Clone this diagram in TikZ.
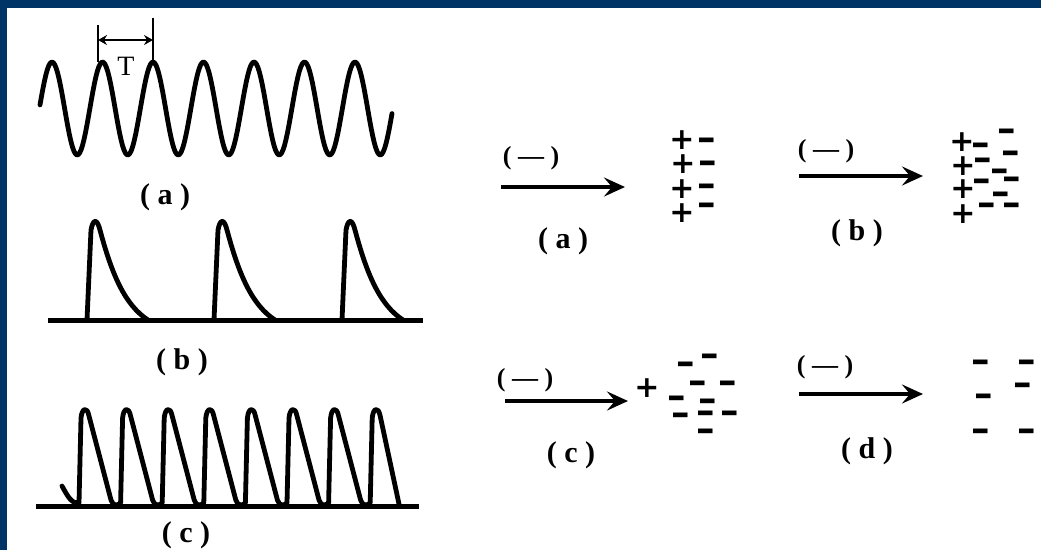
\documentclass[tikz,border=0pt]{standalone}
\usepackage{fontspec}
\setmainfont{Liberation Serif}
\newfontfamily\signfont{DejaVu Sans}
\usetikzlibrary{arrows.meta}
\definecolor{frameBlue}{RGB}{0,51,102}

\def\drawPulseB#1{%
\draw[signalLine] (#1,320) -- (#1+4,230) .. controls (#1+6,219) and (#1+10,218) .. (#1+13,230)
  .. controls (#1+25,275) and (#1+38,305) .. (#1+61,320);
}

\begin{document}
\begin{tikzpicture}[x=1pt, y=-1pt]

% styles
\tikzstyle{signalLine}=[line width=4.8pt, line join=round, line cap=round]
\tikzstyle{baseLine}=[line width=5pt]
\tikzstyle{dimLine}=[line width=2pt]
\tikzstyle{dimArrow}=[line width=2pt, {Stealth[length=9pt,width=10pt,inset=3pt]}-{Stealth[length=9pt,width=10pt,inset=3pt]}]
\tikzstyle{fieldArrow}=[line width=4pt, -{Stealth[length=21pt,width=19pt,inset=8pt]}]

% text styles
\tikzstyle{labelText}=[inner sep=0pt, font=\bfseries\fontsize{30}{30}\selectfont]
\tikzstyle{fieldText}=[inner sep=0pt, font=\bfseries\fontsize{26}{26}\selectfont]
\tikzstyle{periodText}=[inner sep=0pt, font=\fontsize{28}{28}\selectfont]
\tikzstyle{chargeP}=[inner sep=0pt, text height=21.5pt, text depth=0pt, font=\signfont\bfseries\fontsize{30}{30}\selectfont]
\tikzstyle{chargeM}=[inner sep=0pt, text height=26.5pt, text depth=0pt, yshift=3pt, font=\signfont\bfseries\fontsize{37}{37}\selectfont]

\useasboundingbox (0,0) rectangle (1041,550);
\fill[white] (0,0) rectangle (1041,550);
\fill[frameBlue] (0,0) rectangle (1041,8);
\fill[frameBlue] (0,0) rectangle (7,550);

% (a) sine wave with period
\draw[signalLine] plot[domain=40:392, samples=240] (\x, {108.5-46.5*cos(7.1287*(\x-52))});
\coordinate (tL-top) at (98,25);
\coordinate (tL-bot) at (98,62);
\coordinate (tR-top) at (153,18);
\coordinate (tR-bot) at (153,60);
\draw[dimLine] (tL-top) -- (tL-bot);
\draw[dimLine] (tR-top) -- (tR-bot);
\coordinate (tArr-l) at (98,40);
\coordinate (tArr-r) at (153,40);
\draw[dimArrow] (tArr-l) -- (tArr-r);
\node[periodText] (tLabel) at (126,66) {T};
\node[labelText] (capA) at (165,197) {( a )};

% (b) separate pulses
\coordinate (baseB-l) at (48,320);
\coordinate (baseB-r) at (423,320);
\draw[baseLine] (baseB-l) -- (baseB-r);
\drawPulseB{87}
\drawPulseB{214}
\drawPulseB{342}
\node[labelText] (capB) at (182,362) {( b )};

% (c) dense pulses
\coordinate (baseC-l) at (36,506);
\coordinate (baseC-r) at (419,506);
\draw[baseLine] (baseC-l) -- (baseC-r);
\draw[signalLine] (62,486) .. controls (68,497) and (72,504) .. (79,503)
  \foreach \p in {86,127.6,169.2,210.8,252.4,294,335.6} {
    -- (\p-5,418) .. controls (\p-4,408) and (\p+1,406) .. (\p+3,416)
    -- (\p+25,500) .. controls (\p+27,506) and (\p+31,506) .. (\p+34.6,503)
  }
  -- (372.2,418) .. controls (373.2,408) and (378.2,406) .. (380.2,416)
  -- (399,504);
\node[labelText] (capC) at (186,535) {( c )};

% right: field and charges
\coordinate (arrA-s) at (501,187);
\coordinate (arrA-e) at (625,187);
\draw[fieldArrow] (arrA-s) -- (arrA-e);
\node[fieldText] (fieldA) at (531,158) {( — )};
\node[labelText] (capRA) at (563,241) {( a )};
\foreach \c [count=\i] in {(682,139),(683,163),(682,188),(682,212)}
  \node[chargeP] (pa\i) at \c {+};
\foreach \c [count=\i] in {(707,140),(708,163),(707,186),(707,205)}
  \node[chargeM] (ma\i) at \c {–};

\coordinate (arrB-s) at (799,176);
\coordinate (arrB-e) at (923,176);
\draw[fieldArrow] (arrB-s) -- (arrB-e);
\node[fieldText] (fieldB) at (826,151) {( — )};
\node[labelText] (capRB) at (857,233) {( b )};
\foreach \c [count=\i] in {(962,141),(963,165),(963,188),(963,213)}
  \node[chargeP] (pb\i) at \c {+};
\foreach \c [count=\i] in {(981,145),(1007,131),(983,160),(1011,153),(1000,171),(982,181),(1012,179),(1001,194),(987,205),(1012,205)}
  \node[chargeM] (mb\i) at \c {–};

\coordinate (arrC-s) at (505,401);
\coordinate (arrC-e) at (628,401);
\draw[fieldArrow] (arrC-s) -- (arrC-e);
\node[fieldText] (fieldC) at (525,380) {( — )};
\node[labelText] (capRC) at (571,455) {( c )};
\node[chargeP] (pc1) at (647,387) {+};
\foreach \c [count=\i] in {(710,356),(686,364),(698,383),(728,383),(677,398),(708,401),(681,415),(706,413),(730,413),(706,431)}
  \node[chargeM] (mc\i) at \c {–};

\coordinate (arrD-s) at (799,394);
\coordinate (arrD-e) at (923,394);
\draw[fieldArrow] (arrD-s) -- (arrD-e);
\node[fieldText] (fieldD) at (825,367) {( — )};
\node[labelText] (capRD) at (867,451) {( d )};
\foreach \c [count=\i] in {(981,362),(1027,362),(1023,385),(984,396),(981,431),(1027,431)}
  \node[chargeM] (md\i) at \c {–};

\end{tikzpicture}
\end{document}
